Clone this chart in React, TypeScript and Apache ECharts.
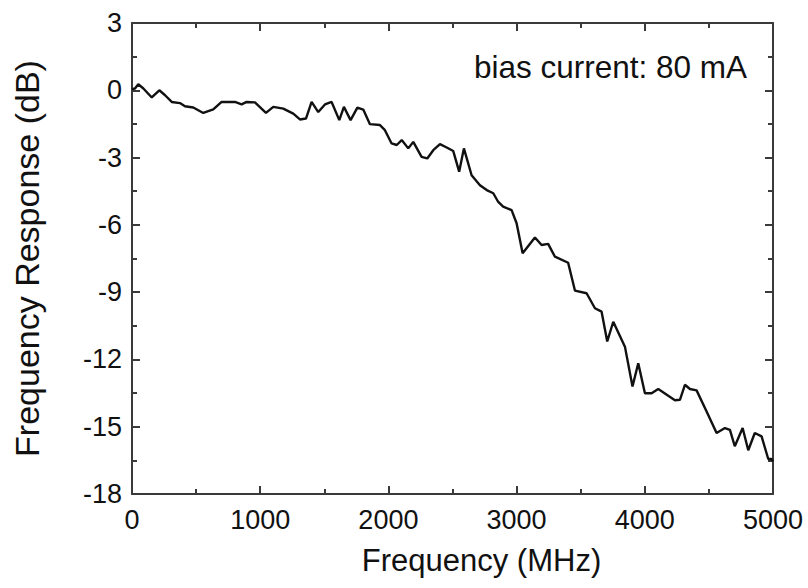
import React, { useEffect, useRef } from "react";
import * as echarts from "echarts";

const frequencies = [
  0, 23, 49, 89, 154, 213, 258, 310, 374, 413, 478, 556, 634, 699, 803, 855, 894, 959,
  1045, 1102, 1180, 1258, 1310, 1357, 1401, 1453, 1505, 1557, 1617, 1653, 1705, 1758, 1804,
  1856, 1934, 1973, 2025, 2065, 2104, 2155, 2194, 2259, 2303, 2350, 2402, 2455, 2506, 2552,
  2589, 2649, 2714, 2767, 2818, 2857, 2895, 2961, 3000, 3047, 3143, 3195, 3246, 3299, 3402,
  3455, 3546, 3611, 3663, 3707, 3754, 3845, 3904, 3949, 4001, 4053, 4105, 4235, 4274, 4313,
  4352, 4404, 4482, 4560, 4625, 4664, 4702, 4763, 4807, 4858, 4911, 4963, 4989, 5000,
];

const responses = [
  0.05, 0.08, 0.27, 0.08, -0.32, 0.0, -0.22, -0.52, -0.57, -0.71, -0.77, -1.01, -0.85, -0.52,
  -0.52, -0.63, -0.52, -0.54, -1.01, -0.74, -0.82, -1.04, -1.3, -1.26, -0.52, -0.97, -0.63,
  -0.52, -1.33, -0.74, -1.33, -0.77, -0.86, -1.51, -1.55, -1.78, -2.37, -2.44, -2.22, -2.59,
  -2.3, -2.97, -3.04, -2.67, -2.4, -2.55, -2.71, -3.63, -2.59, -3.79, -4.23, -4.45, -4.59,
  -4.98, -5.19, -5.34, -5.93, -7.27, -6.56, -6.9, -6.85, -7.42, -7.69, -8.93, -9.05, -9.72,
  -9.87, -11.2, -10.32, -11.43, -13.21, -12.17, -13.51, -13.51, -13.32, -13.82, -13.8, -13.13,
  -13.32, -13.38, -14.32, -15.28, -15.06, -15.14, -15.87, -15.06, -16.05, -15.28, -15.43,
  -16.44, -16.44, -16.55,
];

const xTitle = "Frequency (MHz)";
const yTitle = "Frequency Response (dB)";
const annotation = "bias current: 80 mA";

const FONT = "'Liberation Sans', Arial, Helvetica, sans-serif";
const AXIS_COLOR = "#3a3a3a";

export default function App() {
  const ref = useRef<HTMLDivElement>(null);

  useEffect(() => {
    if (!ref.current) return;
    const chart = echarts.init(ref.current, undefined, { renderer: "svg" });
    const axisLine = { show: true, onZero: false, lineStyle: { color: AXIS_COLOR, width: 2 } };
    const tick = { show: true, inside: true, length: 8, lineStyle: { color: AXIS_COLOR, width: 2 } };
    const minor = { show: true, splitNumber: 2, length: 5, lineStyle: { color: AXIS_COLOR, width: 2 } };
    const label = {
      fontFamily: FONT,
      fontSize: 27,
      color: "#111",
      formatter: (v: number) => String(v),
    };
    chart.setOption({
      animation: false,
      backgroundColor: "#ffffff",
      grid: { left: 132, right: 35, top: 23, bottom: 94, containLabel: false },
      xAxis: [
        {
          type: "value",
          min: 0,
          max: 5000,
          interval: 1000,
          position: "bottom",
          axisLine,
          axisTick: tick,
          minorTick: { ...minor },
          axisLabel: { ...label, margin: 12 },
          splitLine: { show: false },
          name: xTitle,
          nameLocation: "middle",
          nameGap: 51,
          nameTextStyle: {
            fontFamily: FONT,
            fontSize: 31,
            color: "#111",
            padding: [0, 0, 0, 58],
          },
        },
        {
          type: "value",
          min: 0,
          max: 5000,
          interval: 1000,
          position: "top",
          axisLine,
          axisTick: tick,
          minorTick: { ...minor },
          axisLabel: { show: false },
          splitLine: { show: false },
        },
      ],
      yAxis: [
        {
          type: "value",
          min: -18,
          max: 3,
          interval: 3,
          position: "left",
          axisLine,
          axisTick: tick,
          minorTick: { ...minor },
          axisLabel: { ...label, margin: 10 },
          splitLine: { show: false },
          name: yTitle,
          nameLocation: "middle",
          nameGap: 88,
          nameTextStyle: { fontFamily: FONT, fontSize: 34, color: "#111" },
        },
        {
          type: "value",
          min: -18,
          max: 3,
          interval: 3,
          position: "right",
          axisLine,
          axisTick: tick,
          minorTick: { ...minor },
          axisLabel: { show: false },
          splitLine: { show: false },
        },
      ],
      series: [
        {
          type: "line",
          data: frequencies.map((f, i) => [f, responses[i]]),
          showSymbol: false,
          symbol: "none",
          lineStyle: { color: "#111", width: 2.4 },
          xAxisIndex: 0,
          yAxisIndex: 0,
        },
      ],
      graphic: [
        {
          type: "text",
          right: 61,
          top: 51,
          style: {
            text: annotation,
            fontFamily: FONT,
            fontSize: 31.5,
            fill: "#111",
          },
        },
      ],
    });
    return () => chart.dispose();
  }, []);

  return (
    <div
      ref={ref}
      style={{ position: "fixed", left: 0, top: 0, width: 808, height: 588 }}
    />
  );
}
